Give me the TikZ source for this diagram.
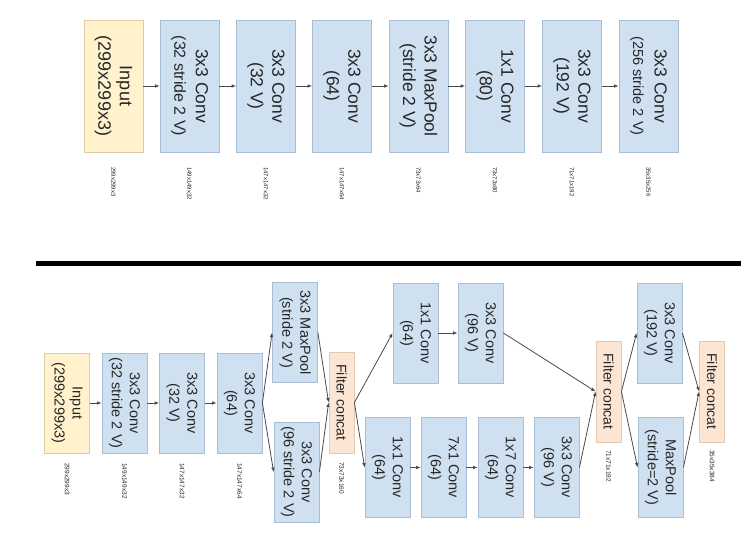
\documentclass[tikz,border=0pt]{standalone}
\usepackage{fontspec}
\setmainfont{Liberation Sans}
\usetikzlibrary{arrows.meta}
\definecolor{bfill}{HTML}{CFE0F1}
\definecolor{bdraw}{HTML}{A9BED6}
\definecolor{yfill}{HTML}{FFF2CC}
\definecolor{ydraw}{HTML}{DCCDA2}
\definecolor{ofill}{HTML}{FCE5D2}
\definecolor{odraw}{HTML}{E2C9B2}
\definecolor{txt}{HTML}{262626}
\definecolor{arrc}{HTML}{4A4A4A}
\begin{document}
\begin{tikzpicture}[x=1pt,y=-1pt,
  box/.style={draw=bdraw, fill=bfill, line width=0.8pt, rotate=-90, align=center, inner sep=0pt, text=txt},
  topbox/.style={box, minimum width=132pt, minimum height=59pt, font=\fontsize{17.5}{21.5}\selectfont},
  botbox/.style={box, minimum width=100pt, minimum height=45pt, font=\fontsize{14.5}{18}\selectfont},
  inbox/.style={draw=ydraw, fill=yfill},
  fcbox/.style={box, draw=odraw, fill=ofill, minimum width=101pt, minimum height=25pt, font=\fontsize{14}{17}\selectfont},
  arr/.style={-{Latex[length=4.5pt,width=3.6pt]}, draw=arrc, line width=0.8pt},
  dimlab/.style={rotate=-90, anchor=west, inner sep=0pt, text=txt, font=\fontsize{6}{7}\selectfont},
  bdimlab/.style={dimlab, font=\fontsize{6.5}{7}\selectfont}
]
\useasboundingbox (0,0) rectangle (746,535);

% ---------- top row ----------
\node[topbox, inbox, font=\fontsize{18}{21.5}\selectfont] (t0) at (113.5,86) {Input\\(299x299x3)};
\node[topbox] (t1) at (189.5,86) {3x3 Conv\\{\fontsize{16}{21.5}\selectfont (32 stride 2 V)}};
\node[topbox] (t2) at (266,86) {3x3 Conv\\(32 V)};
\node[topbox] (t3) at (342,86) {3x3 Conv\\(64)};
\node[topbox] (t4) at (418.5,86) {3x3 MaxPool\\(stride 2 V)};
\node[topbox] (t5) at (495,86) {1x1 Conv\\(80)};
\node[topbox] (t6) at (572,86) {3x3 Conv\\(192 V)};
\node[topbox] (t7) at (648.5,86) {3x3 Conv\\{\fontsize{14.5}{21.5}\selectfont (256 stride 2 V)}};

\draw[arr] (t0.north) -- (t1.south);
\draw[arr] (t1.north) -- (t2.south);
\draw[arr] (t2.north) -- (t3.south);
\draw[arr] (t3.north) -- (t4.south);
\draw[arr] (t4.north) -- (t5.south);
\draw[arr] (t5.north) -- (t6.south);
\draw[arr] (t6.north) -- (t7.south);

\node[dimlab] (l0) at (113.5,167) {299x299x3};
\node[dimlab] (l1) at (189.5,167) {149x149x32};
\node[dimlab] (l2) at (266,167) {147x147x32};
\node[dimlab] (l3) at (342,167) {147x147x64};
\node[dimlab] (l4) at (418.5,167) {73x73x64};
\node[dimlab] (l5) at (495,167) {73x73x80};
\node[dimlab] (l6) at (572,167) {71x71x192};
\node[dimlab] (l7) at (648.5,167) {35x35x256};

% ---------- divider ----------
\coordinate (dl) at (36,263);
\coordinate (dr) at (741,263);
\draw[line width=5pt, black] (dl) -- (dr);

% ---------- bottom ----------
\node[botbox, inbox] (b0) at (67,403) {Input\\(299x299x3)};
\node[botbox] (b1) at (124.5,403) {3x3 Conv\\(32 stride 2 V)};
\node[botbox] (b2) at (182,403) {3x3 Conv\\(32 V)};
\node[botbox] (b3) at (239.5,403) {3x3 Conv\\(64)};
\node[botbox] (m1) at (295,332.5) {3x3 MaxPool\\(stride 2 V)};
\node[botbox] (c1) at (296.5,472) {3x3 Conv\\(96 stride 2 V)};
\node[fcbox] (f1) at (341.5,402.5) {Filter concat};
\node[botbox] (p1) at (415.5,333) {1x1 Conv\\(64)};
\node[botbox] (p2) at (480.5,333) {3x3 Conv\\(96 V)};
\node[botbox] (q1) at (387.5,467.5) {1x1 Conv\\(64)};
\node[botbox] (q2) at (443.5,467.5) {7x1 Conv\\(64)};
\node[botbox] (q3) at (500.5,467.5) {1x7 Conv\\(64)};
\node[botbox] (q4) at (556.5,467.5) {3x3 Conv\\(96 V)};
\node[fcbox] (f2) at (608.5,391.5) {Filter concat};
\node[botbox] (r1) at (659.5,333) {3x3 Conv\\(192 V)};
\node[botbox] (r2) at (660.5,467.5) {MaxPool\\(stride=2 V)};
\node[fcbox] (f3) at (712,391.5) {Filter concat};

\draw[arr] (b0.north) -- (b1.south);
\draw[arr] (b1.north) -- (b2.south);
\draw[arr] (b2.north) -- (b3.south);
\draw[arr] (b3.north) -- (m1.south);
\draw[arr] (b3.north) -- (c1.south);
\draw[arr] (m1.north) -- (f1.south);
\draw[arr] (c1.north) -- (f1.south);
\draw[arr] (f1.north) -- (p1.south);
\draw[arr] (f1.north) -- (q1.south);
\draw[arr] (p1.north) -- (p2.south);
\draw[arr] (p2.north) -- (f2.south);
\draw[arr] (q1.north) -- (q2.south);
\draw[arr] (q2.north) -- (q3.south);
\draw[arr] (q3.north) -- (q4.south);
\draw[arr] (q4.north) -- (f2.south);
\draw[arr] (f2.north) -- (r1.south);
\draw[arr] (f2.north) -- (r2.south);
\draw[arr] (r1.north) -- (f3.south);
\draw[arr] (r2.north) -- (f3.south);

\node[bdimlab] (k0) at (67,463) {299x299x3};
\node[bdimlab] (k1) at (124.5,463) {149x149x32};
\node[bdimlab] (k2) at (182,463) {147x147x32};
\node[bdimlab] (k3) at (239.5,463) {147x147x64};
\node[bdimlab] (k4) at (341.5,462) {73x73x160};
\node[bdimlab] (k5) at (608.5,450) {71x71x192};
\node[bdimlab] (k6) at (712,450) {35x35x384};
\end{tikzpicture}
\end{document}
